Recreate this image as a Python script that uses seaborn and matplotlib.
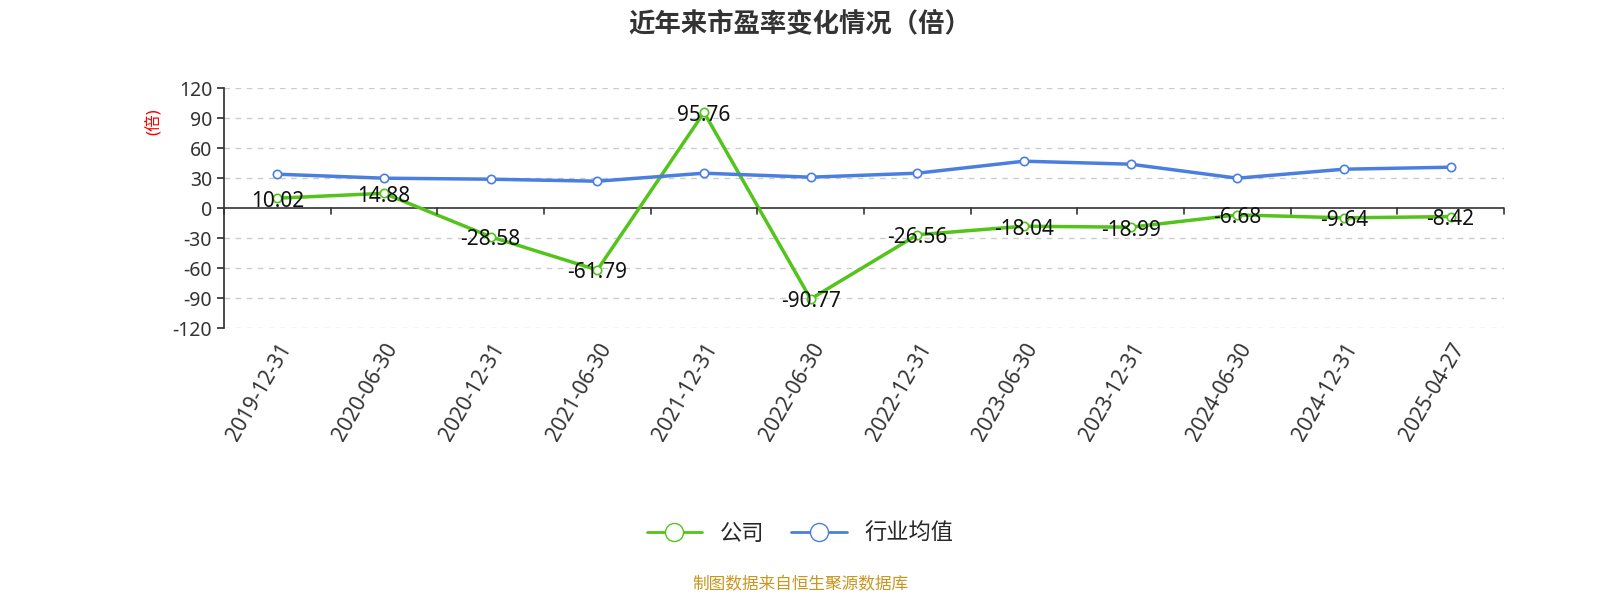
import matplotlib
matplotlib.use("Agg")
import matplotlib.pyplot as plt
import seaborn as sns
import pandas as pd
from matplotlib.lines import Line2D

dates = ["2019-12-31","2020-06-30","2020-12-31","2021-06-30","2021-12-31","2022-06-30",
         "2022-12-31","2023-06-30","2023-12-31","2024-06-30","2024-12-31","2025-04-27"]
company = [10.02,14.88,-28.58,-61.79,95.76,-90.77,-26.56,-18.04,-18.99,-6.68,-9.64,-8.42]
industry = [34,30,29,27,35,31,35,47,44,30,39,41]
yticks = [120,90,60,30,0,-30,-60,-90,-120]

sns.set_theme(style="white")
plt.rcParams['font.family'] = ['Noto Sans', 'Noto Sans CJK SC', 'DejaVu Sans']

fig = plt.figure(figsize=(16,6), dpi=100)
ax = fig.add_axes([0.14, 0.453, 0.80, 0.40])
x = list(range(len(dates)))
green = "#52c41a"; blue = "#4a7fe0"
df = pd.DataFrame({"x": x, "公司": company, "行业均值": industry})
sns.lineplot(data=df, x="x", y="公司", ax=ax, color=green, lw=2.5, marker="o",
             markersize=6, markerfacecolor="white", markeredgecolor=green, markeredgewidth=1.2)
sns.lineplot(data=df, x="x", y="行业均值", ax=ax, color=blue, lw=2.5, marker="o",
             markersize=6, markerfacecolor="white", markeredgecolor=blue, markeredgewidth=1.2)
for xi, v in zip(x, company):
    ax.text(xi, v - 3, f"{v:.2f}", ha="center", va="center", fontsize=15, color="#111")

ax.set_xlim(-0.5, 11.5)
ax.set_ylim(-120, 120)
ax.set_yticks(yticks)
ax.set_yticklabels([str(t) for t in yticks], fontsize=14, color="#333")
for t in yticks:
    if t != 0:
        ax.axhline(t, color="#cccccc", ls=(0,(4,4)), lw=1, zorder=0)
for s in ["top","right","bottom"]:
    ax.spines[s].set_visible(False)
ax.spines["left"].set_color("#333")
ax.axhline(0, color="#333", lw=1.2, zorder=1)
for b in [i - 0.5 for i in range(13)]:
    ax.plot([b, b], [0, -6], color="#333", lw=1.2, clip_on=False)
ax.tick_params(axis="y", left=True, length=5, color="#333")
ax.set_xticks(x)
ax.set_xticklabels(dates, rotation=60, ha="right", rotation_mode="anchor", fontsize=15, color="#333")
ax.tick_params(axis="x", length=0, pad=8)
ax.set_xlabel(""); ax.set_ylabel("")
ax.text(-0.055, 0.86, "(倍)", transform=ax.transAxes, rotation=90, color="red",
        fontsize=12, ha="center", va="center")

fig.text(0.5, 0.96, "近年来市盈率变化情况（倍）", ha="center", va="center",
         fontsize=19, fontweight="bold", color="#333")
handles = [Line2D([0],[0], color=green, lw=2, marker="o", markersize=13, markerfacecolor="white", markeredgecolor=green),
           Line2D([0],[0], color=blue, lw=2, marker="o", markersize=13, markerfacecolor="white", markeredgecolor=blue)]
fig.legend(handles, ["公司","行业均值"], loc="center", bbox_to_anchor=(0.5, 0.11), ncol=2,
           frameon=False, fontsize=16, handlelength=2.5, columnspacing=1.2)
fig.text(0.5, 0.025, "制图数据来自恒生聚源数据库", ha="center", va="center", fontsize=12, color="#c8961e")
fig.savefig("out.png", dpi=100)
